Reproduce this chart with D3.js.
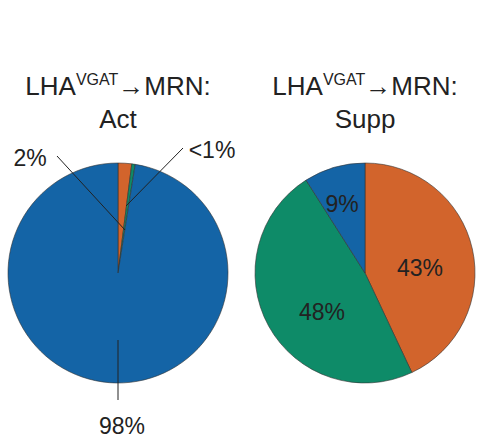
<!DOCTYPE html><html><head><meta charset="utf-8"><script src="https://cdn.jsdelivr.net/npm/d3@7"></script>
<style>body{margin:0;background:#fff}text{font-family:"Liberation Sans",Arial,sans-serif;fill:#222}</style></head><body>
<svg id="c" width="502" height="448"></svg>
<script>
const categories=["Orange","Green","Blue"];
const colors=["#D2642C","#0E8B68","#1464A6"];
const actValues=[2,0.5,97.5];
const suppValues=[43,48,9];
const svg=d3.select("#c");
const pie=d3.pie().sort(null).value(d=>d);
const arc=d3.arc().innerRadius(0).outerRadius(110);
function drawPie(cx,cy,vals){
  const g=svg.append("g").attr("transform",`translate(${cx},${cy})`);
  g.selectAll("path").data(pie(vals)).join("path").attr("d",arc)
   .attr("fill",(d,i)=>colors[i]).attr("stroke","#333").attr("stroke-width",0.6);
  return g;
}
function title(x,sub){
  const t=svg.append("text").attr("x",x).attr("y",95).attr("text-anchor","middle").attr("font-size",26);
  t.append("tspan").text("LHA");
  t.append("tspan").attr("dy",-10).attr("font-size",16).text("VGAT");
  t.append("tspan").attr("dy",10).text("→MRN:");
  svg.append("text").attr("x",x).attr("y",128).attr("text-anchor","middle").attr("font-size",26).text(sub);
}
title(118,"Act");title(365,"Supp");
const gA=drawPie(118,273,actValues);
const gS=drawPie(365,273,suppValues);
svg.append("line").attr("x1",57).attr("y1",156).attr("x2",125).attr("y2",230).attr("stroke","#222");
svg.append("line").attr("x1",183).attr("y1",148).attr("x2",126).attr("y2",206).attr("stroke","#222");
svg.append("line").attr("x1",118).attr("y1",340).attr("x2",118).attr("y2",400).attr("stroke","#222");
const lab=(x,y,t)=>svg.append("text").attr("x",x).attr("y",y).attr("text-anchor","middle").attr("font-size",23).text(t);
lab(30,166,"2%");lab(212,158,"<1%");lab(122,434,"98%");
lab(342,212,"9%");lab(420,276,"43%");lab(322,320,"48%");
</script></body></html>
